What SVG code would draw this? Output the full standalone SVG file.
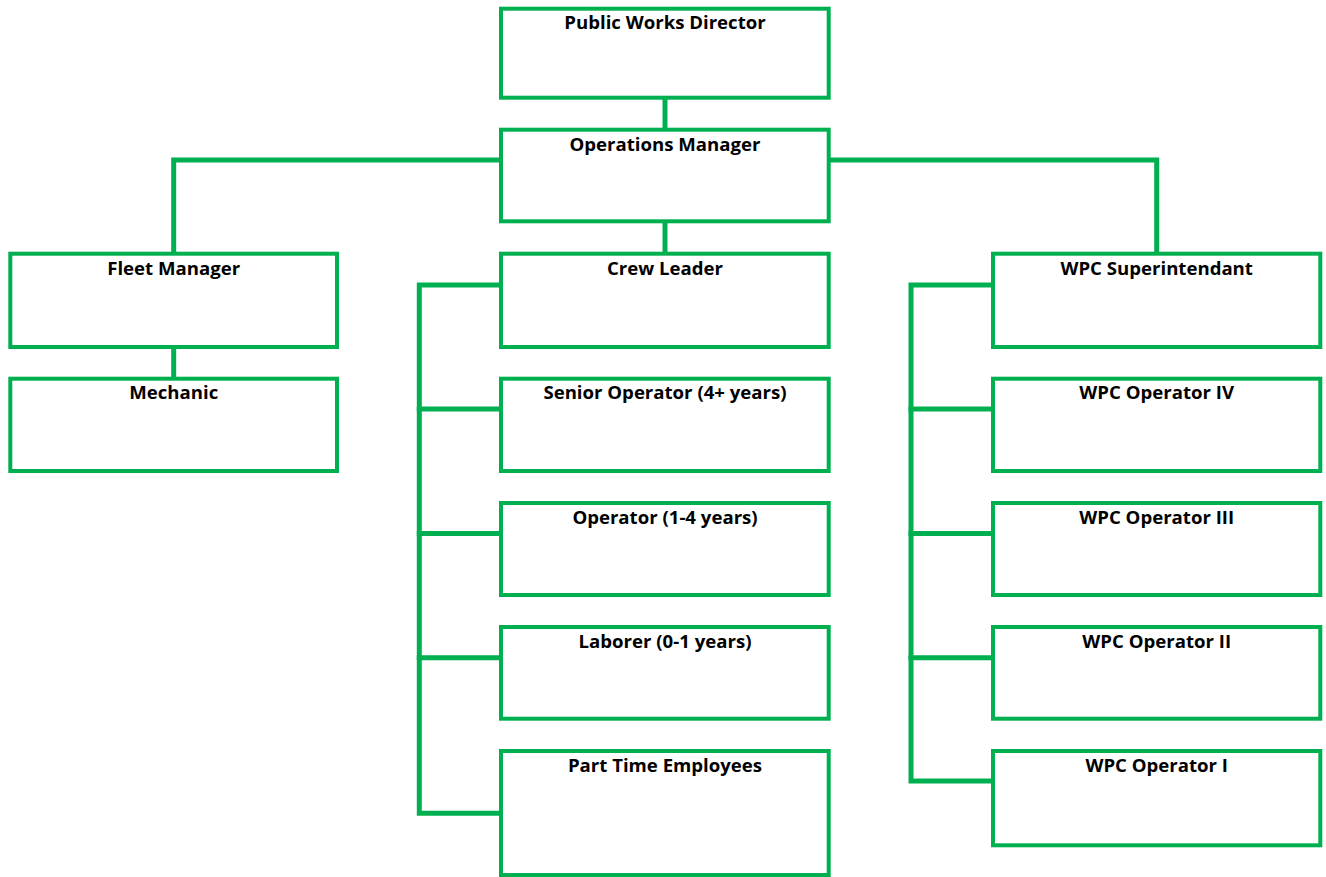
<svg xmlns="http://www.w3.org/2000/svg" width="1326" height="877" viewBox="0 0 1326 877">
<style>
.box{fill:#fff;stroke:#00B050;stroke-width:4}
.con{fill:none;stroke:#00B050;stroke-width:5;stroke-linejoin:miter;stroke-linecap:square}
.lbl{font-family:"Open Sans","Liberation Sans",sans-serif;font-weight:700;font-size:18.6px;fill:#000;text-anchor:middle}
</style>
<rect width="1326" height="877" fill="#fff"/>
<g id="connectors">
<path class="con" d="M665,98V130"/>
<path class="con" d="M665,222V253"/>
<path class="con" d="M501,160H173.7V253"/>
<path class="con" d="M828.7,160H1156.7V253"/>
<path class="con" d="M173.7,347V378"/>
<path class="con" d="M500,285H419.3V813.3H500"/>
<path class="con" d="M419.3,409H500M419.3,533.5H500M419.3,657.7H500"/>
<path class="con" d="M992,285H911V781H992"/>
<path class="con" d="M911,409H992M911,533.5H992M911,657.7H992"/>
</g>
<g id="n-pwd"><rect class="box" x="501" y="8.7" width="327.7" height="89"/><text class="lbl" x="665" y="29">Public Works Director</text></g>
<g id="n-om"><rect class="box" x="501" y="129.7" width="327.7" height="91.6"/><text class="lbl" x="665" y="151">Operations Manager</text></g>
<g id="n-fleet"><rect class="box" x="10.3" y="253.7" width="326.7" height="93.3"/><text class="lbl" x="173.7" y="274.5">Fleet Manager</text></g>
<g id="n-mech"><rect class="box" x="10.3" y="378.7" width="326.7" height="92.3"/><text class="lbl" x="173.7" y="398.5">Mechanic</text></g>
<g id="n-crew"><rect class="box" x="501" y="253.7" width="327.7" height="93.3"/><text class="lbl" x="665" y="274.5">Crew Leader</text></g>
<g id="n-senior"><rect class="box" x="501" y="378.7" width="327.7" height="92.3"/><text class="lbl" x="665" y="399">Senior Operator (4+ years)</text></g>
<g id="n-operator"><rect class="box" x="501" y="503" width="327.7" height="92"/><text class="lbl" x="665" y="523.5">Operator (1-4 years)</text></g>
<g id="n-laborer"><rect class="box" x="501" y="627" width="327.7" height="91.7"/><text class="lbl" x="665" y="647.7">Laborer (0-1 years)</text></g>
<g id="n-parttime"><rect class="box" x="501" y="751" width="327.7" height="124"/><text class="lbl" x="665" y="771.7">Part Time Employees</text></g>
<g id="n-wpcsup"><rect class="box" x="993" y="253.7" width="327.3" height="93.3"/><text class="lbl" x="1156.7" y="274.5">WPC Superintendant</text></g>
<g id="n-wpc4"><rect class="box" x="993" y="378.7" width="327.3" height="92.3"/><text class="lbl" x="1156.7" y="399">WPC Operator IV</text></g>
<g id="n-wpc3"><rect class="box" x="993" y="503" width="327.3" height="92"/><text class="lbl" x="1156.7" y="523.5">WPC Operator III</text></g>
<g id="n-wpc2"><rect class="box" x="993" y="627" width="327.3" height="91.7"/><text class="lbl" x="1156.7" y="647.7">WPC Operator II</text></g>
<g id="n-wpc1"><rect class="box" x="993" y="751" width="327.3" height="94.3"/><text class="lbl" x="1156.7" y="771.7">WPC Operator I</text></g>
</svg>
